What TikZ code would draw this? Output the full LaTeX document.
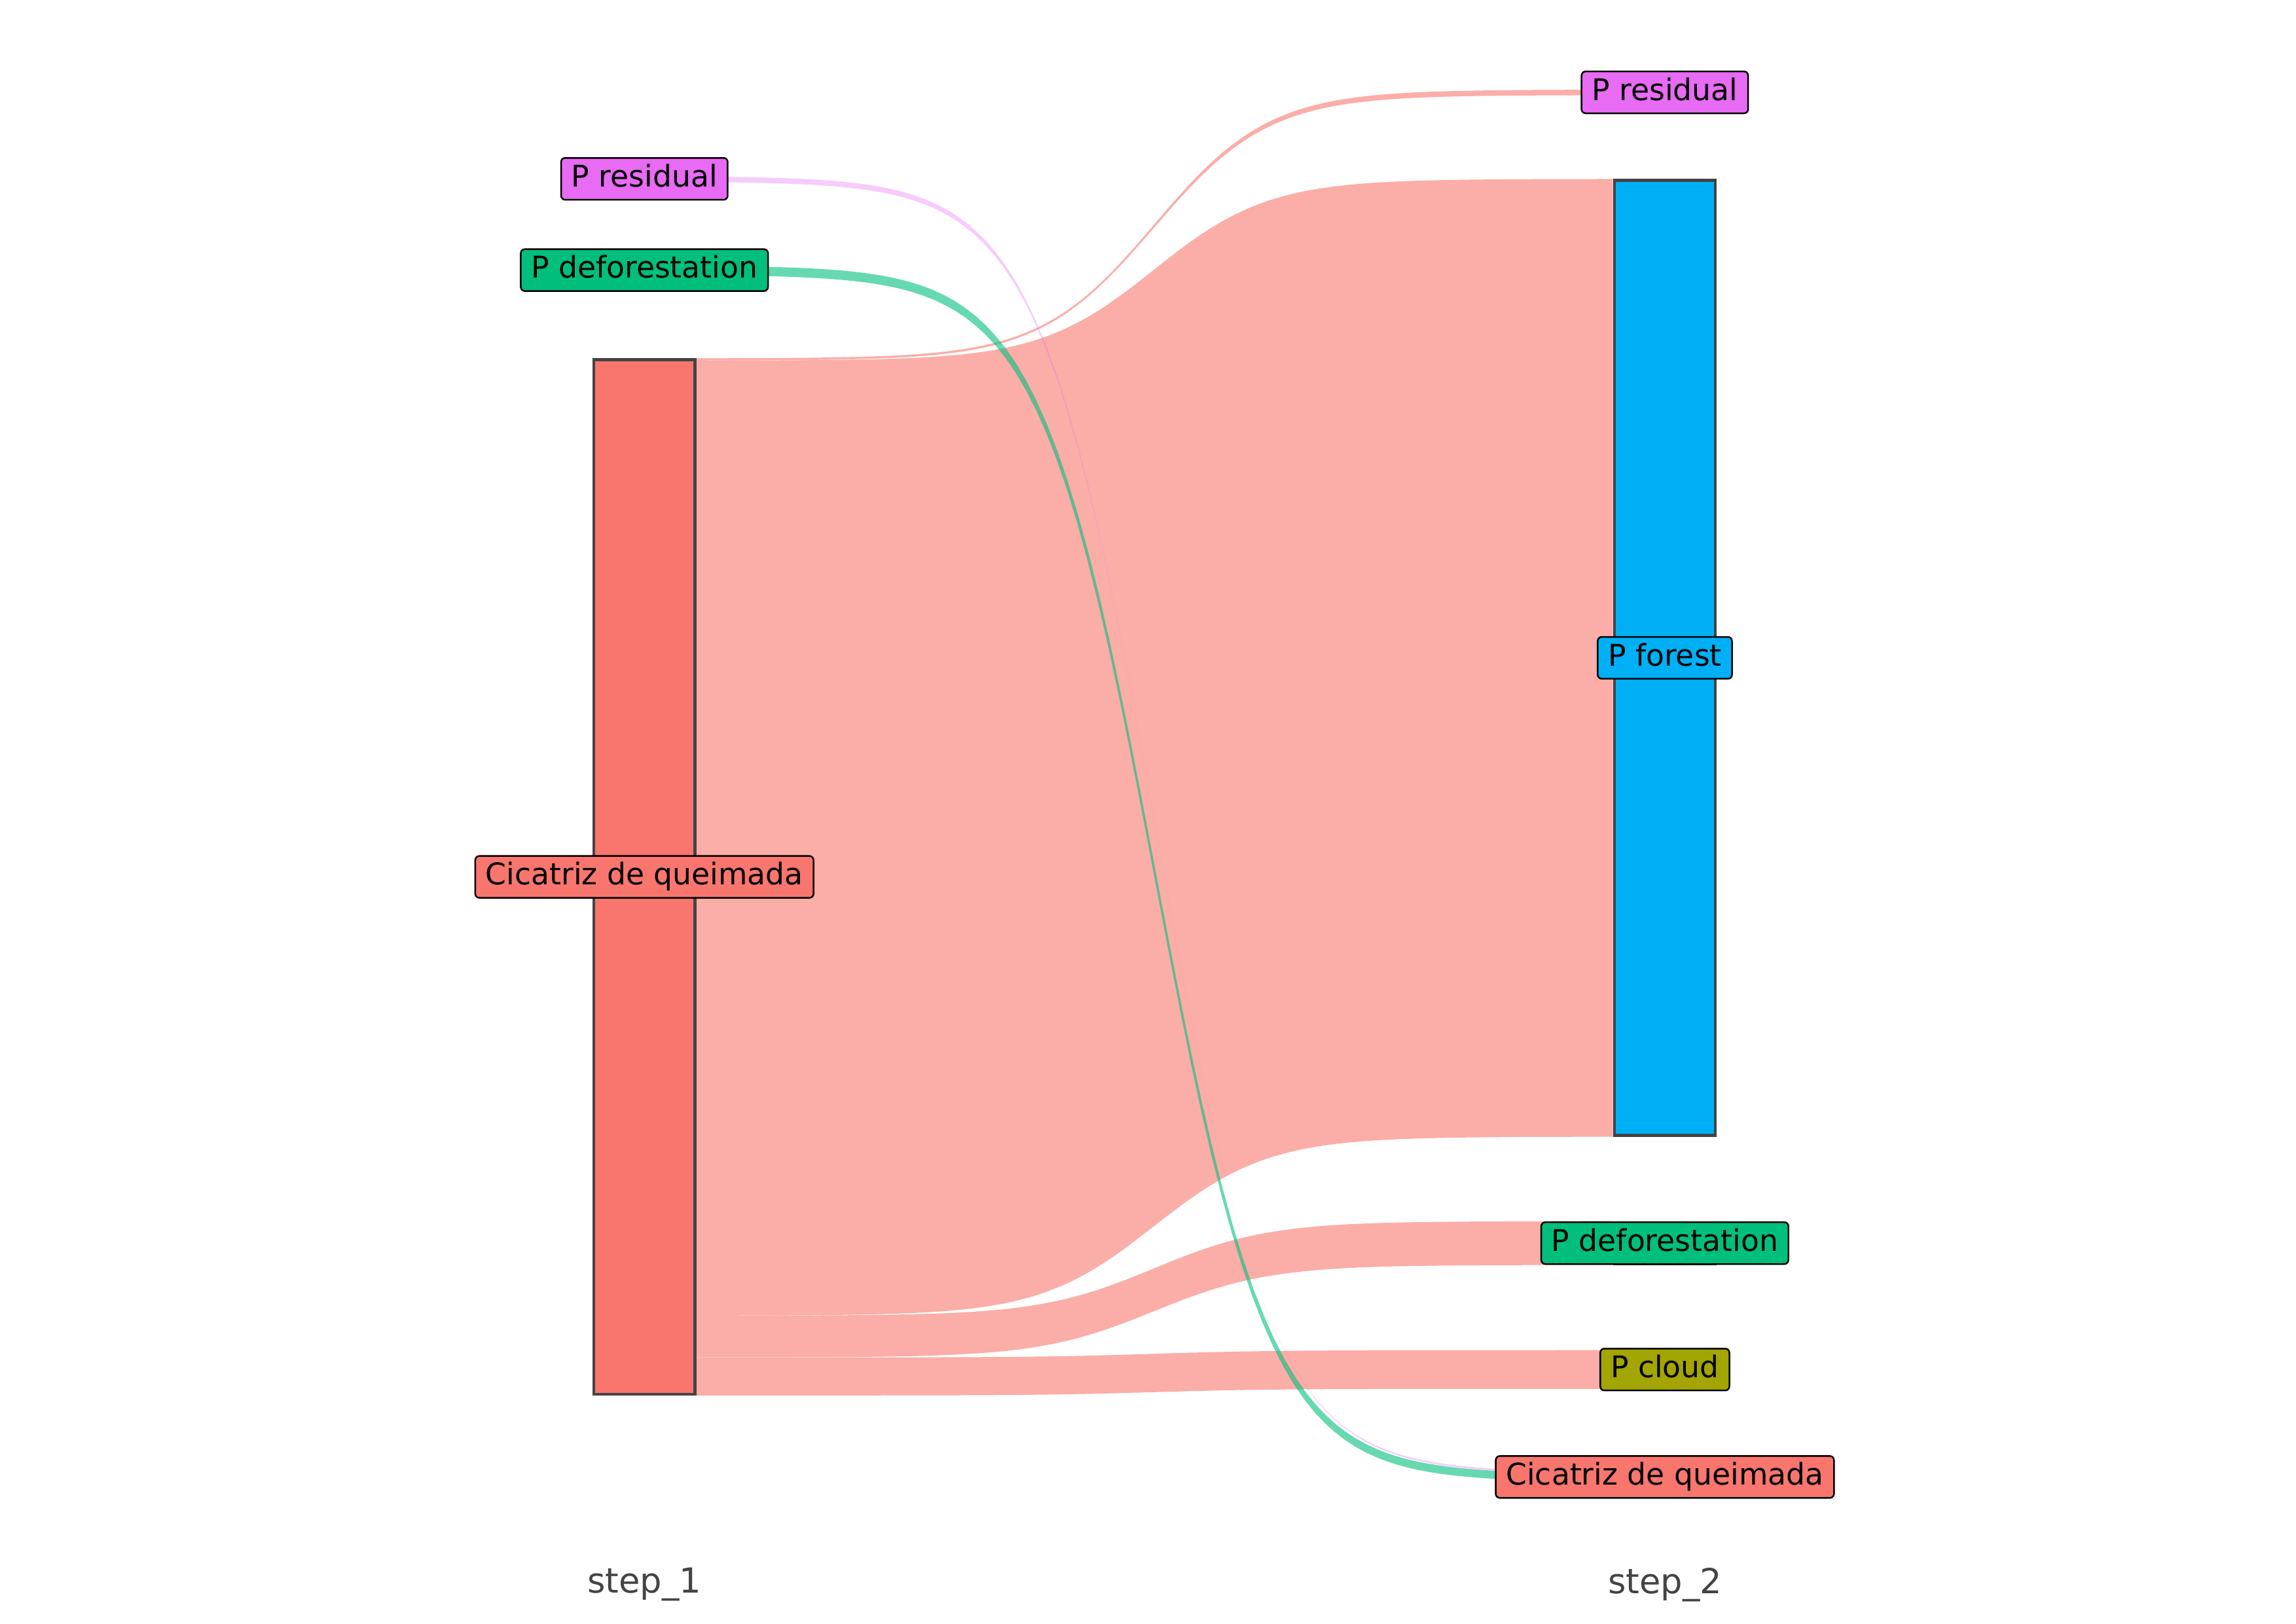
\documentclass[tikz,border=0pt]{standalone}
\usepackage{fontspec}
\setmainfont{DejaVu Sans}
\usetikzlibrary{positioning,fit,backgrounds,calc}
\definecolor{cicred}{HTML}{F8766D}
\definecolor{cloudolive}{HTML}{A3A500}
\definecolor{defgreen}{HTML}{00BF7D}
\definecolor{forestblue}{HTML}{00B0F6}
\definecolor{resviolet}{HTML}{E76BF3}
\definecolor{bargray}{HTML}{444444}

\begin{document}
\begin{tikzpicture}[x=0.018966cm, y=-0.018966cm,
  bar/.style={draw=bargray, line width=1pt, inner sep=0pt},
  lab/.style={draw=black, line width=0.6pt, rounded corners=1.5pt, inner xsep=3.8pt, inner ysep=2.6pt,
    text height=8pt, text depth=2.2pt, font=\fontsize{11}{13}\selectfont},
  band/.style={fill=#1, fill opacity=0.6},
  sig/.style={to path={let \p1=(\tikztostart), \p2=(\tikztotarget) in
    -- plot[domain=-8:8, samples=90, variable=\s]
       ({\x1+(\x2-\x1)*(\s+8)/16}, {\y1+(\y2-\y1)/(1+exp(-\s))})}},
  steplab/.style={text=bargray, font=\fontsize{12.7}{15}\selectfont}]
  \useasboundingbox (0,0) rectangle (1566,1107.5);

  % Bars, step_1
  \node[bar, fill=cicred, fit={(405,245.4) (474,951)}] (lc) {};
  \node[bar, fill=defgreen, fit={(405,182) (474,186.5)}] (lpd) {};
  \node[bar, fill=resviolet, fit={(405,121.8) (474,122.2)}] (lpr) {};

  % Bars, step_2
  \node[bar, fill=resviolet, fit={(1101,62.7) (1170,63.3)}] (rpr) {};
  \node[bar, fill=forestblue, fit={(1101,123) (1170,774.5)}] (rpf) {};
  \node[bar, fill=defgreen, fit={(1101,834) (1170,862)}] (rpd) {};
  \node[bar, fill=cloudolive, fit={(1101,922) (1170,946.5)}] (rpc) {};
  \node[bar, fill=cicred, fit={(1101,1005.1) (1170,1010)}] (rc) {};

  % Link ends
  \coordinate (c1) at (474,246);
  \coordinate (c2) at (474,897.5);
  \coordinate (c3) at (474,926);
  \coordinate (q1) at (1101,1005.5);

  % Links
  \begin{scope}[on background layer]
    \fill[band=cicred] (lc.north east) to[sig] (rpr.north west) -- (rpr.south west) to[sig] (c1) -- cycle;
    \fill[band=cicred] (c1) to[sig] (rpf.north west) -- (rpf.south west) to[sig] (c2) -- cycle;
    \fill[band=cicred] (c2) to[sig] (rpd.north west) -- (rpd.south west) to[sig] (c3) -- cycle;
    \fill[band=cicred] (c3) to[sig] (rpc.north west) -- (rpc.south west) to[sig] (lc.south east) -- cycle;
    \fill[band=resviolet, fill opacity=0.35] (lpr.north east) to[sig] (rc.north west) -- (q1) to[sig] (lpr.south east) -- cycle;
    \fill[band=defgreen] (lpd.north east) to[sig] (q1) -- (rc.south west) to[sig] (lpd.south east) -- cycle;
  \end{scope}

  % Labels
  \node[lab, fill=cicred] (lc-lab) at (lc) {Cicatriz de queimada};
  \node[lab, fill=defgreen] (lpd-lab) at (lpd) {P deforestation};
  \node[lab, fill=resviolet] (lpr-lab) at (lpr) {P residual};
  \node[lab, fill=resviolet] (rpr-lab) at (rpr) {P residual};
  \node[lab, fill=forestblue] (rpf-lab) at (rpf) {P forest};
  \node[lab, fill=defgreen] (rpd-lab) at (rpd) {P deforestation};
  \node[lab, fill=cloudolive] (rpc-lab) at (rpc) {P cloud};
  \node[lab, fill=cicred] (rc-lab) at (rc) {Cicatriz de queimada};

  % Steps
  \node[steplab] (step1) at (439.5,1081) {step\_1};
  \node[steplab] (step2) at (1135.5,1081) {step\_2};
\end{tikzpicture}
\end{document}
